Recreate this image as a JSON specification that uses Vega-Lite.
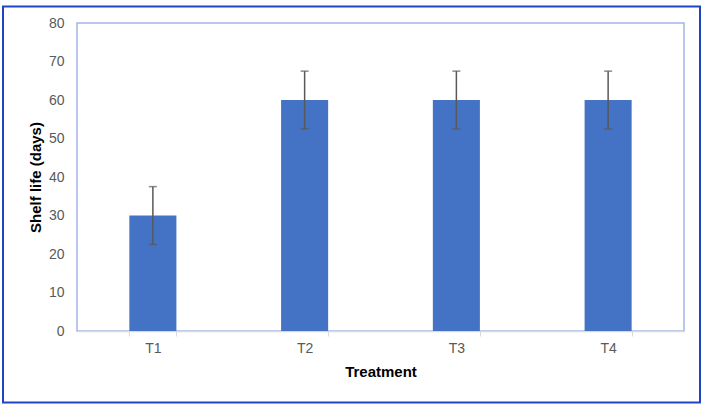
{
  "$schema": "https://vega.github.io/schema/vega-lite/v6.json",
  "width": 607,
  "height": 308,
  "autosize": {"type": "none"},
  "padding": {"left": 77, "top": 23, "right": 22, "bottom": 76},
  "background": "white",
  "config": {
    "font": "Liberation Sans",
    "view": {"stroke": "#A3B5EC", "strokeWidth": 1.5},
    "axis": {
      "labelFontSize": 14,
      "labelColor": "#595959",
      "titleFontSize": 15,
      "titleFontWeight": "bold",
      "titleColor": "#000000",
      "labelOverlap": false
    },
    "axisX": {
      "labelAngle": 0,
      "labelPadding": 5,
      "tickBand": "extent",
      "tickColor": "#D9D9D9",
      "tickSize": 5,
      "domainColor": "#D9D9D9",
      "domainWidth": 1.5,
      "titlePadding": 9
    },
    "axisY": {
      "grid": false,
      "domain": false,
      "ticks": false,
      "tickSize": 0,
      "labelPadding": 13,
      "titlePadding": 5
    }
  },
  "data": {
    "values": [
      {"treatment": "T1", "life": 30, "lo": 22.5, "hi": 37.5, "series": "Shelf life"},
      {"treatment": "T2", "life": 60, "lo": 52.5, "hi": 67.5, "series": "Shelf life"},
      {"treatment": "T3", "life": 60, "lo": 52.5, "hi": 67.5, "series": "Shelf life"},
      {"treatment": "T4", "life": 60, "lo": 52.5, "hi": 67.5, "series": "Shelf life"}
    ]
  },
  "encoding": {
    "x": {
      "field": "treatment",
      "type": "nominal",
      "scale": {"paddingInner": 0.69, "paddingOuter": 0.345},
      "axis": {"title": "Treatment"}
    }
  },
  "layer": [
    {
      "mark": {"type": "bar"},
      "encoding": {
        "y": {
          "field": "life",
          "type": "quantitative",
          "scale": {"domain": [0, 80]},
          "axis": {"title": "Shelf life (days)", "values": [0, 10, 20, 30, 40, 50, 60, 70, 80]}
        },
        "color": {
          "field": "series",
          "type": "nominal",
          "scale": {"range": ["#4472C4"]},
          "legend": {
            "orient": "none",
            "legendX": -75,
            "legendY": -168,
            "title": null,
            "padding": 0,
            "offset": 0,
            "symbolType": "M-1,-0.5681H1V0.5681H-1Z",
            "symbolSize": 485809,
            "symbolFillColor": "transparent",
            "symbolOpacity": 1,
            "labelExpr": "''",
            "labelFontSize": 1,
            "encode": {
              "symbols": {
                "update": {
                  "fill": {"value": "transparent"},
                  "fillOpacity": {"value": 0},
                  "stroke": {"value": "#2043C8"},
                  "strokeWidth": {"value": 2},
                  "strokeOpacity": {"value": 1}
                }
              }
            }
          }
        }
      }
    },
    {
      "mark": {"type": "rule", "color": "#595959", "strokeWidth": 1.5},
      "encoding": {
        "y": {"field": "lo", "type": "quantitative", "axis": {"title": "Shelf life (days)", "values": [0, 10, 20, 30, 40, 50, 60, 70, 80]}},
        "y2": {"field": "hi"}
      }
    },
    {
      "mark": {"type": "tick", "color": "#595959", "size": 8, "thickness": 1.5, "orient": "horizontal"},
      "encoding": {"y": {"field": "lo", "type": "quantitative", "axis": {"title": "Shelf life (days)", "values": [0, 10, 20, 30, 40, 50, 60, 70, 80]}}}
    },
    {
      "mark": {"type": "tick", "color": "#595959", "size": 8, "thickness": 1.5, "orient": "horizontal"},
      "encoding": {"y": {"field": "hi", "type": "quantitative", "axis": {"title": "Shelf life (days)", "values": [0, 10, 20, 30, 40, 50, 60, 70, 80]}}}
    }
  ]
}
